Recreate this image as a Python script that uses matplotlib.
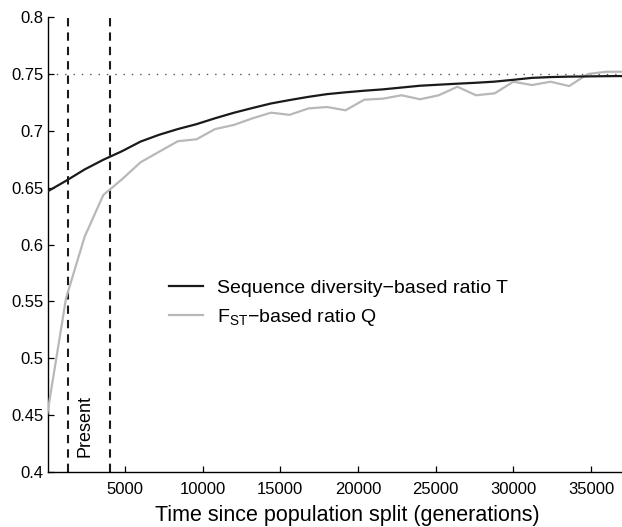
import numpy as np
import matplotlib
matplotlib.use('Agg')
import matplotlib.pyplot as plt
from matplotlib.ticker import FuncFormatter

plt.rcParams['font.family'] = ['Liberation Sans', 'DejaVu Sans']
plt.rcParams['mathtext.default'] = 'regular'

# Time points (generations since split), sampled every 1200 generations
gens = [0, 1200, 2400, 3600, 4800, 6000, 7200, 8400, 9600, 10800,
        12000, 13200, 14400, 15600, 16800, 18000, 19200, 20400, 21600, 22800,
        24000, 25200, 26400, 27600, 28800, 30000, 31200, 32400, 33600, 34800,
        36000, 37200]

# Sequence diversity-based ratio T
ratio_t = [0.6466, 0.6560, 0.6660, 0.6745, 0.6820, 0.6905, 0.6965, 0.7015, 0.7058, 0.7110,
           0.7158, 0.7200, 0.7240, 0.7270, 0.7298, 0.7322, 0.7338, 0.7352, 0.7364, 0.7380,
           0.7396, 0.7405, 0.7414, 0.7422, 0.7432, 0.7448, 0.7465, 0.7472, 0.7476, 0.7478,
           0.7480, 0.7481]

# F_ST-based ratio Q
ratio_q = [0.4516, 0.5527, 0.6069, 0.6435, 0.6573, 0.6723, 0.6816, 0.6908, 0.6925, 0.7015,
           0.7051, 0.7109, 0.7159, 0.7140, 0.7196, 0.7209, 0.7180, 0.7273, 0.7282, 0.7312,
           0.7277, 0.7312, 0.7387, 0.7312, 0.7329, 0.7431, 0.7402, 0.7431, 0.7393, 0.7499,
           0.7519, 0.7519]

present_bounds = [1300, 4000]   # dashed vertical lines
asymptote = 0.75

xticks = [5000, 10000, 15000, 20000, 25000, 30000, 35000]
yticks = [0.4, 0.45, 0.5, 0.55, 0.6, 0.65, 0.7, 0.75, 0.8]

fig = plt.figure(figsize=(6.22, 5.27), dpi=100)
ax = fig.add_axes([0.0777, 0.1044, 0.9223, 0.8633])

ax.axhline(asymptote, color='#555555', lw=1.0, linestyle=(0, (1, 5)), zorder=1)
for xb in present_bounds:
    ax.axvline(xb, color='#1a1a1a', lw=1.5, dashes=(4, 2.9), zorder=2)

ax.plot(gens, ratio_t, color='#1a1a1a', lw=1.6, label='Sequence diversity\u2212based ratio T', zorder=4)
ax.plot(gens, ratio_q, color='#b8b8b8', lw=1.6, label='F$_{ST}$\u2212based ratio Q', zorder=3)

ax.text(2420, 0.413, 'Present', rotation=90, ha='center', va='bottom', fontsize=13)

ax.set_xlim(60, 37000)
ax.set_ylim(0.4, 0.8)
ax.set_xticks(xticks)
ax.set_yticks(yticks)
ax.yaxis.set_major_formatter(FuncFormatter(lambda v, p: '%g' % v))
ax.tick_params(direction='in', length=4, labelsize=12, width=0.9)
ax.tick_params(axis='x', pad=7)
for s in ['top', 'right']:
    ax.spines[s].set_visible(False)
for s in ['left', 'bottom']:
    ax.spines[s].set_linewidth(1.0)

ax.set_xlabel('Time since population split (generations)', fontsize=15.5)
ax.xaxis.set_label_coords(0.5215, -0.072)

ax.legend(loc='upper left', bbox_to_anchor=(0.18, 0.4615), frameon=False, fontsize=14,
          handlelength=1.75, handletextpad=0.72, labelspacing=0.5)

fig.savefig('out.png', dpi=100)
